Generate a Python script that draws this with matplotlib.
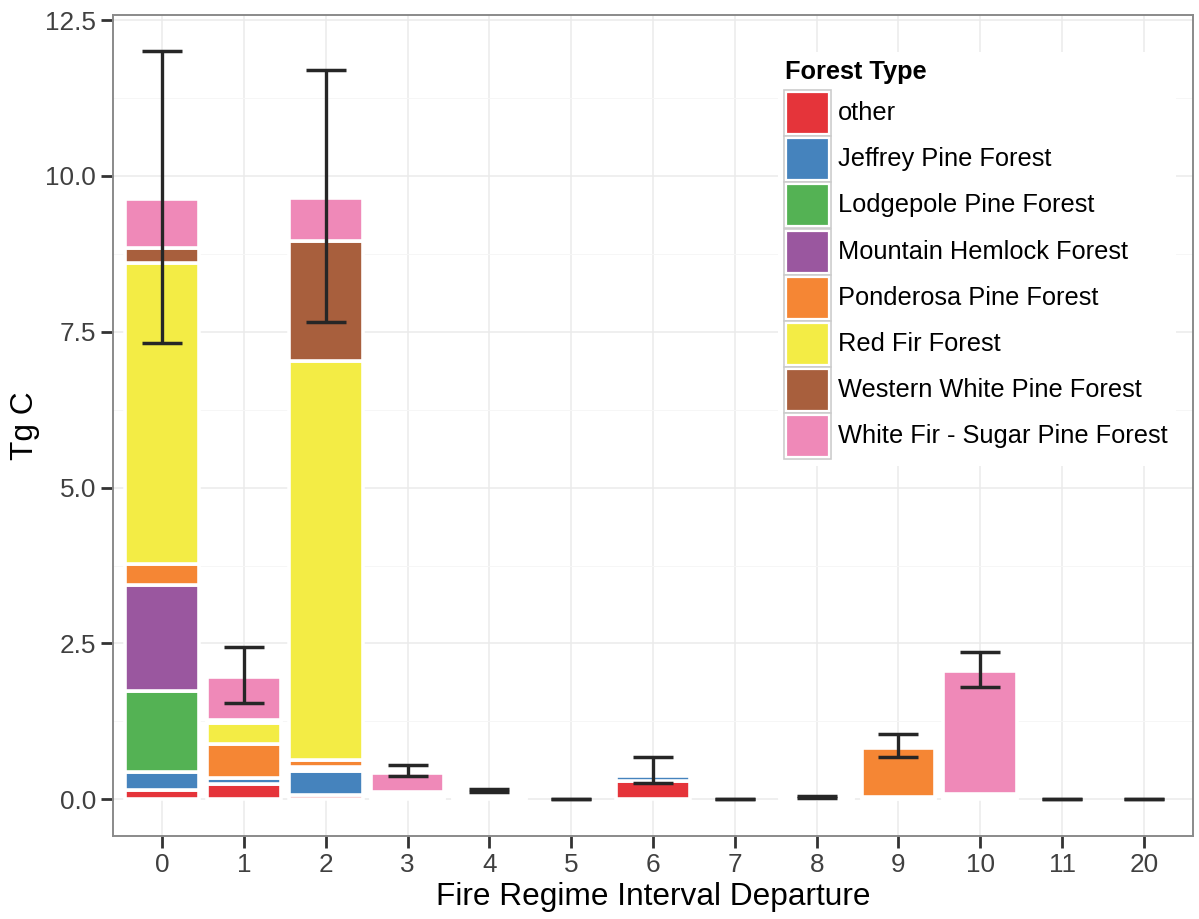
import matplotlib
matplotlib.use("Agg")
import matplotlib.pyplot as plt
from matplotlib.patches import Rectangle
import numpy as np

# ---- data -------------------------------------------------------------
categories = ["0", "1", "2", "3", "4", "5", "6", "7", "8", "9", "10", "11", "20"]

forest_types = [
    "other",
    "Jeffrey Pine Forest",
    "Lodgepole Pine Forest",
    "Mountain Hemlock Forest",
    "Ponderosa Pine Forest",
    "Red Fir Forest",
    "Western White Pine Forest",
    "White Fir - Sugar Pine Forest",
]

other          = [0.15, 0.25, 0.07, 0.02, 0.02, 0.0, 0.30, 0.0, 0.02, 0.01, 0.02, 0.0, 0.0]
jeffrey        = [0.28, 0.09, 0.38, 0.03, 0.02, 0.0, 0.08, 0.0, 0.01, 0.01, 0.02, 0.0, 0.0]
lodgepole      = [1.31, 0.00, 0.03, 0.00, 0.00, 0.0, 0.00, 0.0, 0.00, 0.01, 0.01, 0.0, 0.0]
mtn_hemlock    = [1.69, 0.00, 0.04, 0.00, 0.00, 0.0, 0.00, 0.0, 0.00, 0.00, 0.00, 0.0, 0.0]
ponderosa      = [0.35, 0.55, 0.11, 0.03, 0.02, 0.0, 0.00, 0.0, 0.01, 0.79, 0.02, 0.0, 0.0]
red_fir        = [4.82, 0.33, 6.40, 0.03, 0.02, 0.0, 0.00, 0.0, 0.00, 0.00, 0.01, 0.0, 0.0]
western_white  = [0.25, 0.05, 1.93, 0.00, 0.00, 0.0, 0.00, 0.0, 0.00, 0.00, 0.00, 0.0, 0.0]
white_fir      = [0.78, 0.69, 0.69, 0.31, 0.05, 0.0, 0.00, 0.0, 0.00, 0.00, 1.98, 0.0, 0.0]

err_low  = [7.32, 1.55, 7.65, 0.37, 0.11, 0.0, 0.26, 0.0, 0.015, 0.68, 1.80, 0.0, 0.0]
err_high = [12.00, 2.44, 11.70, 0.545, 0.165, 0.0, 0.68, 0.0, 0.055, 1.05, 2.37, 0.0, 0.0]

series = [other, jeffrey, lodgepole, mtn_hemlock, ponderosa, red_fir,
          western_white, white_fir]
colors = ["#e5343a", "#4583bd", "#54b254", "#9a579f",
          "#f58634", "#f3ec45", "#a85f3d", "#ef89b8"]

# ---- figure ------------------------------------------------------------
W, H, DPI = 1199, 919, 100
plt.rcParams["font.family"] = ["Liberation Sans", "DejaVu Sans"]
fig = plt.figure(figsize=(W / DPI, H / DPI), dpi=DPI)


def fx(px):
    return px / W


def fy(py):
    return 1 - py / H


ax = fig.add_axes([fx(113), fy(836), fx(1193) - fx(113), fy(15) - fy(836)])

x = np.arange(len(categories))
bottom = np.zeros(len(categories))
for vals, col in zip(series, colors):
    vals = np.asarray(vals, dtype=float)
    keep = vals > 0
    ax.bar(x[keep], vals[keep], width=0.9, bottom=bottom[keep], color=col,
           edgecolor="white", linewidth=2.6, zorder=2)
    bottom += vals

centre = (np.array(err_low) + np.array(err_high)) / 2
half = (np.array(err_high) - np.array(err_low)) / 2
ax.errorbar(x, centre, yerr=half, fmt="none", ecolor="#262626",
            elinewidth=2.4, capsize=14.7, capthick=2.5, zorder=3)

# ---- axes styling ------------------------------------------------------
ax.set_xlim(-0.6, len(categories) - 0.4)
ax.set_ylim(-0.589, 12.583)
ax.set_xticks(x)
ax.set_xticklabels(categories)
yt = np.arange(0, 12.6, 2.5)
ax.set_yticks(yt)
ax.set_yticklabels([f"{v:.1f}" for v in yt])
ax.set_yticks(np.arange(1.25, 12.6, 2.5), minor=True)

ax.set_axisbelow(True)
ax.grid(True, which="major", color="#ebebeb", linewidth=1.1, zorder=0)
ax.grid(True, which="minor", axis="y", color="#f6f6f6", linewidth=0.7, zorder=0)

ax.tick_params(axis="both", which="major", length=8.6, width=2.0,
               color="#333333", labelsize=18.8, labelcolor="#404040", pad=3.6)
ax.tick_params(axis="y", which="minor", length=0)

for sp in ax.spines.values():
    sp.set_color("#8a8a8a")
    sp.set_linewidth(1.4)

ax.set_xlabel("Fire Regime Interval Departure", fontsize=22.8, color="black",
              labelpad=4)
ax.set_ylabel("Tg C", fontsize=22.8, color="black", labelpad=4)

# ---- legend ------------------------------------------------------------
fig.patches.append(Rectangle((fx(778), fy(466)), fx(1176) - fx(778),
                             fy(52) - fy(466), transform=fig.transFigure,
                             facecolor="white", edgecolor="none", zorder=5))
fig.text(fx(785), fy(72), "Forest Type", fontsize=18.3, fontweight="bold",
         ha="left", va="center", zorder=7)
pitch = 46.2
for i, (name, col) in enumerate(zip(forest_types, colors)):
    yc = 113 + i * pitch
    fig.patches.append(Rectangle((fx(784), fy(yc + 23)), fx(831) - fx(784),
                                 fy(yc - 23) - fy(yc + 23),
                                 transform=fig.transFigure, facecolor="#f2f2f2",
                                 edgecolor="#cccccc", linewidth=1.2, zorder=6))
    fig.patches.append(Rectangle((fx(786), fy(yc + 21)), fx(829) - fx(786),
                                 fy(yc - 21) - fy(yc + 21),
                                 transform=fig.transFigure, facecolor=col,
                                 edgecolor="white", linewidth=1.6, zorder=6))
    fig.text(fx(838), fy(yc), name, fontsize=18.3, ha="left", va="center",
             color="black", zorder=7)

fig.savefig("out.png", dpi=DPI)
